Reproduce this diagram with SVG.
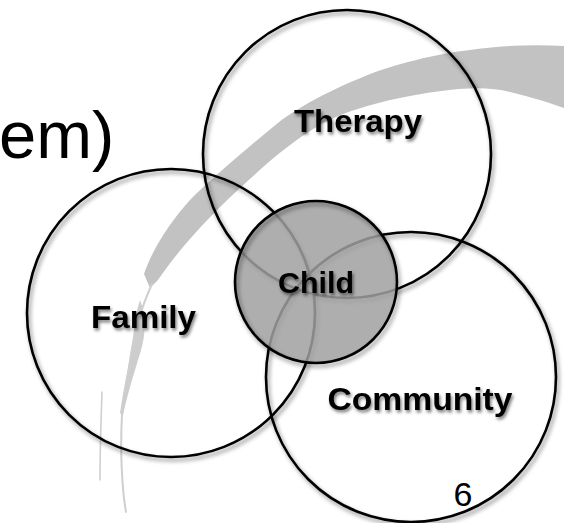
<svg xmlns="http://www.w3.org/2000/svg" width="564" height="523" viewBox="0 0 564 523">
  <style>
    .ring { fill: none; stroke: #000; stroke-width: 2.6; }
    .label { font-family: "Liberation Sans", Arial, sans-serif; font-weight: bold; fill: #000; text-anchor: middle; }
    .plain { font-family: "Liberation Sans", Arial, sans-serif; fill: #000; }
    .strand { fill: none; stroke: #cfcfcf; stroke-linecap: round; }
  </style>
  <defs>
    <filter id="shadow" x="-20%" y="-20%" width="140%" height="140%">
      <feDropShadow dx="2" dy="3" stdDeviation="2" flood-color="#000" flood-opacity="0.45"/>
    </filter>
    <filter id="tshadow" x="-20%" y="-30%" width="140%" height="160%">
      <feDropShadow dx="1.5" dy="2.5" stdDeviation="1.5" flood-color="#000" flood-opacity="0.5"/>
    </filter>
  </defs>
  <rect x="0" y="0" width="564" height="523" fill="#fff"/>

  <g id="swoosh">
    <path fill="#c2c2c2" d="M 564 46 C 530 44, 495 46, 470 50 C 440 53, 390 65, 363 77 C 335 88, 295 108, 273 127 C 245 150, 210 180, 190 200 C 170 222, 152 250, 144 274 L 150 288 L 158 280 C 175 255, 200 225, 240 188 C 265 165, 290 142, 323 123 C 345 112, 370 104, 400 98 C 440 90, 480 84, 510 92 C 535 98, 553 104, 564 108 Z"/>
    <path fill="#cdcdcd" d="M 140 300 C 148 320, 145 340, 138 360 C 132 380, 126 400, 123 416 L 120 413 C 123 392, 127 372, 131 352 C 134 335, 134 318, 140 300 Z"/>
    <path class="strand" stroke-width="2" d="M 152 284 C 140 310, 131 340, 128 380"/>
    <path class="strand" stroke-width="2" d="M 122 415 C 120 450, 122 490, 126 512"/>
    <path class="strand" stroke-width="1.6" stroke="#dedede" d="M 102 392 C 101 420, 100 450, 100 480"/>
  </g>

  <text class="plain" x="-1" y="158" font-size="67">em)</text>

  <g id="connectors"></g>

  <g id="node-therapy">
    <circle class="ring" cx="347" cy="154" r="144" filter="url(#shadow)"/>
  </g>
  <g id="node-family">
    <circle class="ring" cx="171" cy="313" r="144" filter="url(#shadow)"/>
  </g>
  <g id="node-community">
    <circle class="ring" cx="411" cy="377" r="145" filter="url(#shadow)"/>
  </g>
  <g id="node-child">
    <circle cx="316" cy="282" r="81" fill="#a0a0a0" fill-opacity="0.85"/>
    <circle class="ring" cx="316" cy="282" r="81" filter="url(#shadow)"/>
  </g>

  <g id="labels" filter="url(#tshadow)">
    <text class="label" x="358" y="132" font-size="32" textLength="128" lengthAdjust="spacingAndGlyphs">Therapy</text>
    <text class="label" x="143.5" y="328" font-size="32" textLength="105" lengthAdjust="spacingAndGlyphs">Family</text>
    <text class="label" x="316" y="293" font-size="29" textLength="76" lengthAdjust="spacingAndGlyphs">Child</text>
    <text class="label" x="420" y="410" font-size="32" textLength="185" lengthAdjust="spacingAndGlyphs">Community</text>
  </g>
  <text class="plain" x="463" y="506" font-size="34" text-anchor="middle">6</text>
</svg>
